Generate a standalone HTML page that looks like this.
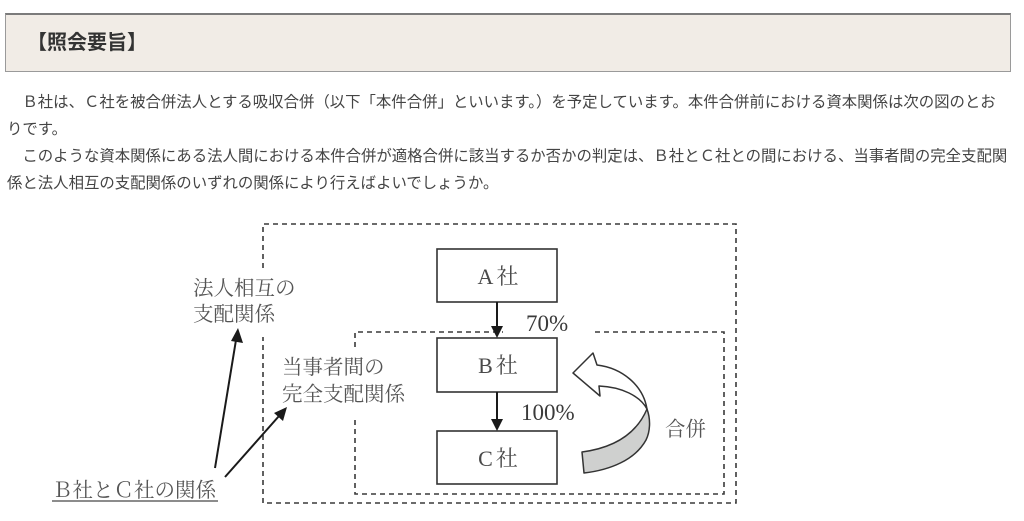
<!DOCTYPE html>
<html lang="ja">
<head>
<meta charset="utf-8">
<style>
  html,body{margin:0;padding:0;background:#fff;}
  body{width:1024px;height:521px;position:relative;overflow:hidden;
       font-family:"Liberation Sans","Noto Sans CJK JP",sans-serif;}
  .hdr{position:absolute;left:5px;top:13px;width:1004px;height:56px;
       background:#f1ece6;border-top:2px solid #7b7b7b;border-left:1px solid #9a9a9a;
       border-right:1px solid #9a9a9a;border-bottom:1px solid #9a9a9a;}
  .hdr span{position:absolute;left:21px;top:16px;font-size:20px;line-height:20px;font-weight:bold;
       color:#333;font-family:"Noto Sans CJK JP",sans-serif;}
  .txt{position:absolute;left:7px;top:88px;font-size:15.4px;line-height:27px;color:#444;
       white-space:nowrap;font-family:"Noto Sans CJK JP",sans-serif;}
  svg{position:absolute;left:0;top:0;}
</style>
</head>
<body>
<div class="hdr"><span>【照会要旨】</span></div>
<div class="txt">　Ｂ社は、Ｃ社を被合併法人とする吸収合併（以下「本件合併」といいます。）を予定しています。本件合併前における資本関係は次の図のとお<br>りです。<br>　このような資本関係にある法人間における本件合併が適格合併に該当するか否かの判定は、Ｂ社とＣ社との間における、当事者間の完全支配関<br>係と法人相互の支配関係のいずれの関係により行えばよいでしょうか。</div>

<svg width="1024" height="521" viewBox="0 0 1024 521" xmlns="http://www.w3.org/2000/svg">
  <g fill="none" stroke="#3a3a3a" stroke-width="1.6" stroke-dasharray="5,4">
    <path d="M263,268 L263,224 L736,224 L736,503 L263,503 L263,337"/>
    <path d="M355,347 L355,332 L503,332"/>
    <path d="M595,332 L724,332 L724,494 L355,494 L355,418"/>
  </g>
  <g fill="#fff" stroke="#333" stroke-width="1.6">
    <rect x="437" y="249" width="120" height="53"/>
    <rect x="437" y="338" width="120" height="54"/>
    <rect x="437" y="431" width="120" height="53"/>
  </g>
  <g stroke="#1a1a1a" stroke-width="2">
    <line x1="497" y1="302" x2="497" y2="327"/>
    <line x1="497" y1="392" x2="497" y2="420"/>
  </g>
  <g fill="#1a1a1a">
    <polygon points="491,326 503,326 497,338"/>
    <polygon points="491,419 503,419 497,431"/>
  </g>
  <g font-family="Liberation Serif,'Noto Serif CJK SC',serif" font-size="22" fill="#4a4a4a" text-anchor="middle">
    <text x="498" y="284">A<tspan dx="3">社</tspan></text>
    <text x="498" y="373">B<tspan dx="3">社</tspan></text>
    <text x="498" y="466">C<tspan dx="3">社</tspan></text>
  </g>
  <g font-family="Liberation Serif,'Noto Serif CJK SC',serif" font-size="23" fill="#3a3a3a">
    <text x="526" y="331">70%</text>
    <text x="521" y="420">100%</text>
  </g>
  <!-- merge curved arrow -->
  <path d="M573,373 L593,353 L597,365 C622,368 643,385 647,409 C640,396 622,387 599,386 L600,396 Z" fill="#fff" stroke="#333" stroke-width="1.5" stroke-linejoin="round"/>
  <path d="M647,409 C651,420 650,432 646,440 C635,460 610,470 584,473 L582,452 C612,448 636,435 647,409 Z" fill="#cfd0cf" stroke="#333" stroke-width="1.5" stroke-linejoin="round"/>
  <g font-family="'Noto Serif CJK SC',serif" font-size="20.5" fill="#555">
    <text x="665" y="436">合併</text>
    <text x="193" y="295">法人相互の</text>
    <text x="193" y="321">支配関係</text>
    <text x="282" y="374">当事者間の</text>
    <text x="282" y="401">完全支配関係</text>
    <text x="52" y="497">Ｂ社とＣ社の関係</text>
  </g>
  <line x1="52" y1="501" x2="218" y2="501" stroke="#666" stroke-width="1.5"/>
  <g stroke="#1a1a1a" stroke-width="2">
    <line x1="215" y1="468" x2="236" y2="340"/>
    <line x1="225" y1="477" x2="279" y2="416"/>
  </g>
  <g fill="#1a1a1a">
    <polygon points="238,328 231,341 243,343"/>
    <polygon points="287,407 274,413 283,421"/>
  </g>
</svg>
</body>
</html>
